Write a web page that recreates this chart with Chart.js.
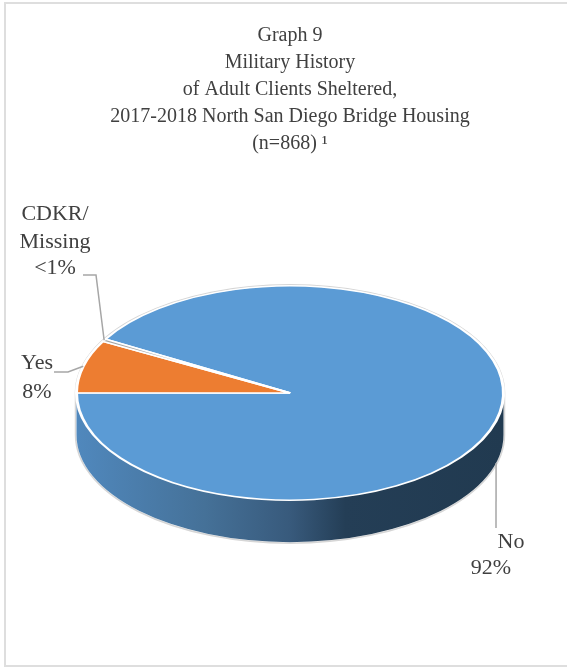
<!DOCTYPE html>
<html>
<head>
<meta charset="utf-8">
<style>
  html, body { margin: 0; padding: 0; background: #fff; }
  #frame { position: relative; width: 567px; height: 668px; overflow: hidden; }
  #frame::before {
    content: ""; position: absolute; left: 4px; top: 2px; right: -4px; bottom: 1px;
    border: 2px solid #dedede; box-sizing: border-box; pointer-events: none;
  }
  canvas { display: block; }
</style>
<script src="https://cdn.jsdelivr.net/npm/chart.js@4/dist/chart.umd.min.js"></script>
</head>
<body>
<div id="frame"><canvas id="chart" width="567" height="668"></canvas></div>
<script>
// Military history shares, in percent.
const categories = ['No', 'Yes', 'CDKR/Missing'];
const shares = [92, 8, 0.4];
const sliceColors = ['#5b9bd5', '#ed7d31', '#a5a5a5'];
const titleLines = [
  'Graph 9',
  'Military History',
  'of Adult Clients Sheltered,',
  '2017-2018 North San Diego Bridge Housing',
  '(n=868) \u00B9'
];
const sliceLabels = [['No', '92%'], ['Yes', '8%'], ['CDKR/', 'Missing', '<1%']];

// Label layout: centre of each text line, and the leader's path back to its slice.
const labelLayout = [
  { lines: [[511, 542], [491, 568]], leader: [[496, 528]], onWall: true },
  { lines: [[37, 363], [37, 392]], leader: [[54, 372], [68, 372]], onWall: false },
  { lines: [[55, 214], [55, 242], [55, 268]], leader: [[83, 275], [96, 275]], onWall: false }
];

const TILT = 0.502;       // vertical squash of the pie disc
const DEPTH = 42;         // height of the disc's side wall
const TEXT_COLOR = '#404040';
const FONT_FAMILY = '"Liberation Serif", serif';

function wallGradient(ctx, x0, x1) {
  const g = ctx.createLinearGradient(x0, 0, x1, 0);
  g.addColorStop(0, '#5088bd');
  g.addColorStop(0.3, '#457198');
  g.addColorStop(0.5, '#385a7c');
  g.addColorStop(0.63, '#243e56');
  g.addColorStop(1, '#213a50');
  return g;
}

// Squashes the pie into an ellipse and paints the side wall underneath it.
const tiltedDisc = {
  id: 'tiltedDisc',
  beforeDatasetsDraw(chart) {
    const { ctx } = chart;
    const arc = chart.getDatasetMeta(0).data[0];
    const cx = arc.x, cy = arc.y, rx = arc.outerRadius, ry = rx * TILT;

    ctx.save();
    // Outer silhouette
    ctx.beginPath();
    ctx.ellipse(cx, cy, rx + 1, ry + 1, 0, Math.PI, 2 * Math.PI);
    ctx.lineTo(cx + rx + 1, cy + DEPTH);
    ctx.ellipse(cx, cy + DEPTH, rx + 1, ry + 1, 0, 0, Math.PI);
    ctx.closePath();
    ctx.strokeStyle = '#d6d6d6';
    ctx.lineWidth = 1.5;
    ctx.stroke();

    // Front wall
    ctx.beginPath();
    ctx.ellipse(cx, cy, rx, ry, 0, Math.PI, 0, true);
    ctx.lineTo(cx + rx, cy + DEPTH);
    ctx.ellipse(cx, cy + DEPTH, rx, ry, 0, 0, Math.PI);
    ctx.closePath();
    ctx.fillStyle = wallGradient(ctx, cx - rx, cx + rx);
    ctx.fill();
    ctx.restore();

    ctx.save();
    ctx.translate(cx, cy);
    ctx.scale(1, TILT);
    ctx.translate(-cx, -cy);
  },
  afterDatasetsDraw(chart) {
    chart.ctx.restore();
  }
};

// Writes the slice labels and their grey leader lines.
const sliceCallouts = {
  id: 'sliceCallouts',
  afterDraw(chart) {
    const { ctx } = chart;
    const arcs = chart.getDatasetMeta(0).data;
    ctx.save();
    ctx.font = '22px ' + FONT_FAMILY;
    ctx.fillStyle = TEXT_COLOR;
    ctx.textAlign = 'center';
    ctx.textBaseline = 'middle';
    sliceLabels.forEach((lines, i) => {
      const place = labelLayout[i];
      lines.forEach((text, j) => ctx.fillText(text, place.lines[j][0], place.lines[j][1]));

      const arc = arcs[i];
      const mid = (arc.startAngle + arc.endAngle) / 2;
      const ax = arc.x + arc.outerRadius * Math.cos(mid);
      const ay = arc.y + arc.outerRadius * TILT * Math.sin(mid) + (place.onWall ? DEPTH : 0);
      ctx.beginPath();
      place.leader.forEach(([x, y], k) => (k ? ctx.lineTo(x, y) : ctx.moveTo(x, y)));
      ctx.lineTo(ax, ay);
      ctx.strokeStyle = '#a6a6a6';
      ctx.lineWidth = 1.5;
      ctx.stroke();
    });
    ctx.restore();
  }
};

new Chart(document.getElementById('chart'), {
  type: 'pie',
  data: {
    labels: categories,
    datasets: [{
      data: shares,
      backgroundColor: sliceColors,
      borderColor: '#ffffff',
      borderWidth: 3
    }]
  },
  options: {
    responsive: false,
    animation: false,
    rotation: 300.2,
    layout: { padding: { left: 75, right: 62, top: 22, bottom: 60 } },
    plugins: {
      legend: { display: false },
      tooltip: { enabled: false },
      title: {
        display: true,
        text: titleLines,
        color: TEXT_COLOR,
        font: { family: FONT_FAMILY, size: 20, weight: 'normal', lineHeight: 1.35 },
        padding: { top: 0, bottom: 21 }
      }
    }
  },
  plugins: [tiltedDisc, sliceCallouts]
});
</script>
</body>
</html>
